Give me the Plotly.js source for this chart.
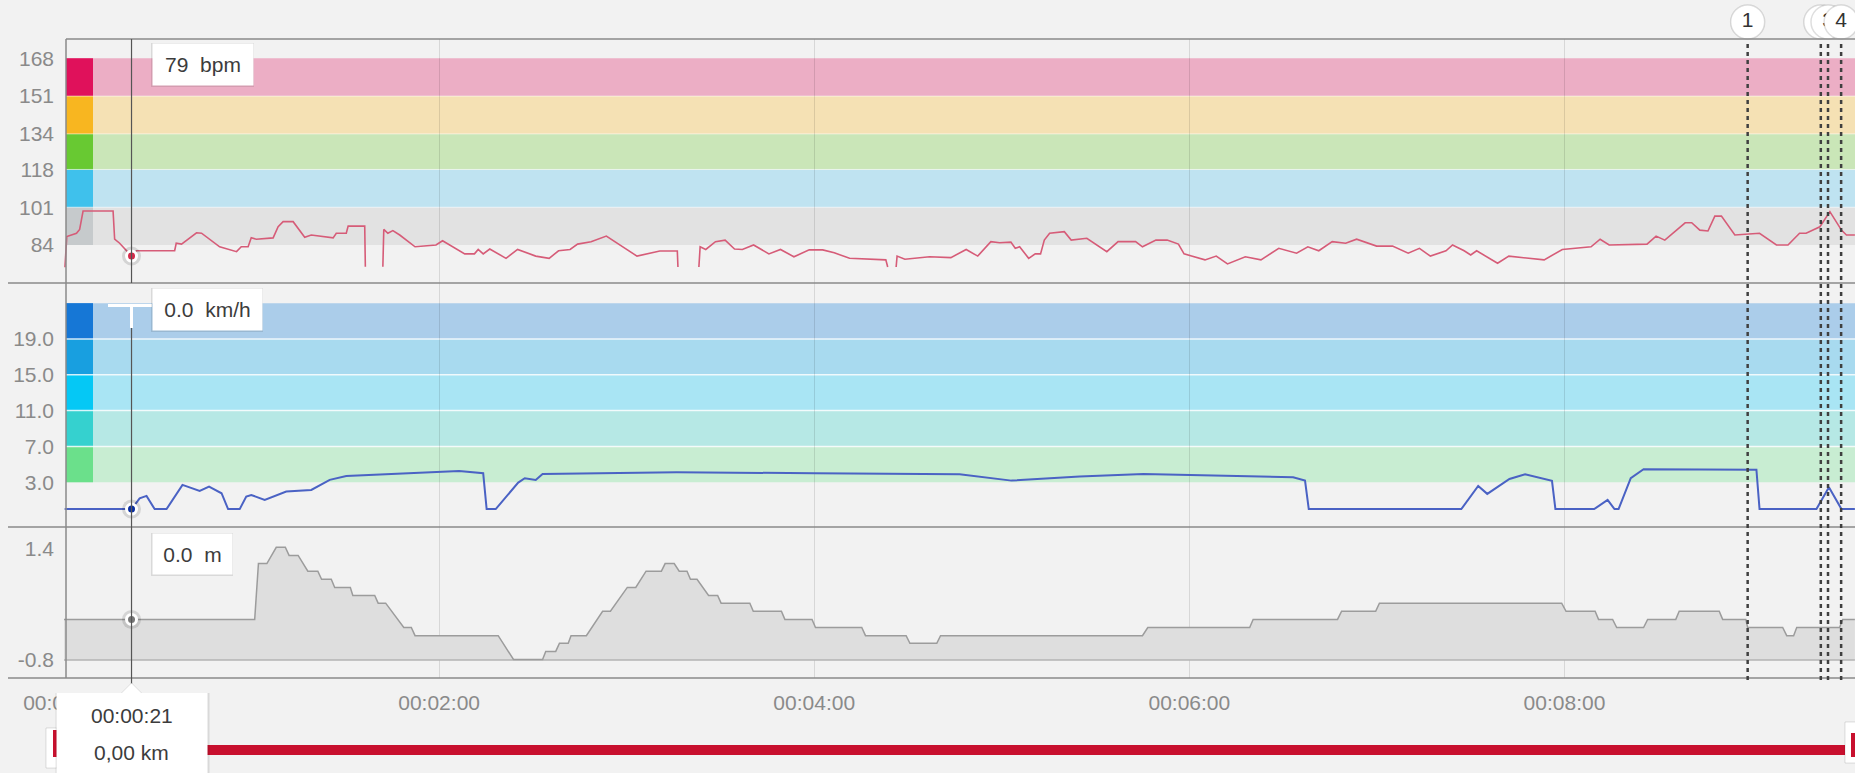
<!DOCTYPE html>
<html><head><meta charset="utf-8">
<script src="https://cdn.plot.ly/plotly-3.0.1.min.js"></script>
<style>html,body{margin:0;padding:0;background:#f2f2f2;overflow:hidden}#chart{width:1855px;height:773px}</style>
</head><body><div id="chart"></div>
<script>
// ---------------- DATA ----------------
const hrTime = [0.3,0.9,4.0,5.0,6.1,15.7,16.2,17.8,21.6,23.2,35.4,35.9,37.6,39.2,42.4,44.0,49.8,55.2,56.7,58.9,59.9,61.5,66.9,68.5,70.1,73.3,77.0,79.1,86.1,87.1,90.3,90.9,96.2,96.4,null,
102.0,102.3,103.6,105.2,107.4,109.2,112.3,119.0,121.1,128.2,131.3,132.5,134.1,136.2,141.4,145.1,150.9,155.2,158.2,161.9,164.3,168.6,173.5,183.3,190.6,196.2,196.4,null,
203.1,203.5,205.3,208.4,211.5,214.5,217.0,220.6,225.5,229.2,233.5,238.4,242.7,246.4,251.3,262.9,263.5,null,
266.2,266.5,269.0,276.9,283.7,288.6,292.3,296.5,299.3,302.9,304.3,305.7,308.6,310.7,312.4,313.6,315.3,320.0,322.2,327.2,333.6,337.2,342.8,345.0,349.3,352.9,356.5,358.3,365.0,368.6,372.2,377.9,382.9,388.6,394.3,397.9,401.4,405.7,410.0,413.5,419.9,425.0,430.0,433.6,437.1,442.1,444.2,447.9,450.0,451.9,458.6,462.2,473.5,479.3,488.5,491.4,494.3,506.4,509.3,512.1,518.6,520.7,523.3,525.9,528.1,530.2,534.5,542.4,547.8,551.5,555.2,557.3,561.7,564.9,568.6,570.2,572.9];
const hrBpm = [74,87.8,89.3,91,99.3,99.3,86.6,84.8,79,81.4,81.4,84.8,84.4,86.2,89.5,89.3,83.2,81,83.2,83.2,87.3,86.6,87.2,92.2,94.5,94.5,87.5,88.5,87.2,89.3,89.3,92.5,92.5,74.2,null,
74.2,91,89.3,90.5,88.5,86.6,83.2,84,85.9,80,80,82,80,82.2,78,82,79,78,81.4,82,84.4,85.5,88,79,81.3,81.3,74.1,null,
74.1,83.2,82,85.5,86.2,82.2,82,84,80,82,78.7,81.8,81.8,80.5,78,77.3,74.1,null,
74.1,79,77.6,78.7,78.3,82,79,85.5,85,85.3,82.5,83.2,78,80,80,86.2,89.3,90,86.2,87,81,85.5,85.5,83.2,86.2,86.2,84.4,80,77.3,79,75.5,78.7,77.3,82.5,80.3,83.2,81.4,85.5,84.8,86.6,83.5,83.5,80.3,82.5,79,81.4,84,81.4,79.5,81.4,75.8,79,77.3,82,83.2,86.6,84,84.4,88,86.2,94,94,90.7,90.3,97,97,88.5,89.3,84,84,89.3,89.3,92.2,99,90.7,88.5,88.5];

const speedTime = [0.2,21.6,24.2,26.4,29.0,32.8,37.9,43.4,46.4,50.4,52.5,56.2,58.3,59.9,64.2,71.1,79.1,85.0,90.3,107.4,126.4,134.1,135.2,138.1,145.3,147.4,150.9,153.1,196.0,240.1,286.5,303.1,324.9,345.3,393.2,397.0,398.2,447.0,452.4,455.3,462.4,467.4,476.0,477.1,489.5,493.8,496.0,497.3,501.2,505.3,541.4,542.4,560.6,564.6,568.6,572.9];
const speedKmh = [0,0,1.2,1.47,0,0,2.7,2.03,2.5,1.77,0,0,1.4,1.58,1.03,1.96,2.14,3.26,3.7,4.0,4.26,4.0,0,0,2.96,3.45,3.26,3.93,4.12,4.0,3.9,3.18,3.63,3.93,3.56,3.18,0,0,2.59,1.7,3.37,3.9,3.15,0,0,1.03,0,0,3.45,4.45,4.4,0,0,2.44,0,0];

const elevTime = [0,61.0,62.2,64.9,67.9,70.8,72.0,74.9,78.0,81.2,82.4,85.5,86.6,91.6,92.4,99.4,100.5,102.9,108.7,111.1,112.3,138.9,143.8,153.1,154.1,157.3,158.5,161.3,162.2,167.1,172.3,174.8,180.2,182.9,186.2,191.1,192.3,195.2,196.8,199.3,200.4,202.5,206.2,209.1,210.2,219.4,220.5,229.5,230.6,239.3,240.4,255.2,256.4,269.4,270.6,279.2,280.4,345.0,346.7,379.3,380.4,407.4,408.7,419.6,420.8,479.1,480.5,489.8,490.9,495.4,496.7,505.3,506.6,515.6,516.7,529.5,530.6,538.0,538.6,549.8,551.1,553.3,554.3,568.0,569.0,572.9];
const elevM = [0,0,1.10,1.10,1.42,1.42,1.26,1.26,0.95,0.95,0.79,0.79,0.63,0.63,0.47,0.47,0.32,0.32,-0.16,-0.16,-0.32,-0.32,-0.79,-0.79,-0.63,-0.63,-0.47,-0.47,-0.32,-0.32,0.16,0.16,0.63,0.63,0.95,0.95,1.10,1.10,0.95,0.95,0.79,0.79,0.47,0.47,0.32,0.32,0.16,0.16,0,0,-0.16,-0.16,-0.32,-0.32,-0.47,-0.47,-0.32,-0.32,-0.16,-0.16,0,0,0.16,0.16,0.32,0.32,0.16,0.16,0,0,-0.16,-0.16,0,0,0.16,0.16,0,0,-0.16,-0.16,-0.32,-0.32,-0.16,-0.16,0,0];

const hrZones = [84,101,118,134,151,168];
const hrZoneBand = ['#e2e2e2','#bfe3f1','#cae6b8','#f5e1b4','#ecaec5'];
const hrZoneSwatch = ['#c6cacc','#3fc1ec','#68c932','#f8b620','#e0115b'];
const speedZones = [3,7,11,15,19,23];
const speedZoneBand = ['#c8edd2','#b6e8e5','#a9e5f4','#a8daef','#abcdea'];
const speedZoneSwatch = ['#6be08b','#35d1cf','#05c8f5','#189fe0','#1677d6'];
const elevTicks = [-0.8, 1.4];
const xTickSec = [0,120,240,360,480];
const xTickText = ['00:00:00','00:02:00','00:04:00','00:06:00','00:08:00'];
const lapTime = [538.6, 562.0, 564.3, 568.5];
const lapLabel = ['1','2','3','4'];
const cursorSec = 21.6;
const cursorTimeText = '00:00:21';
const cursorDistText = '0,00 km';
const cursorHr = 79;
const cursorSpeed = 0.0;
const cursorElev = 0.0;

// ---------------- LAYOUT HELPERS ----------------
const W = 1855, H = 773, ML = 64, PH = 678, PW = W - ML;
const px = x => (x - ML) / PW;
const py = y => (PH - y) / PH;
const secPerPx = 1 / 3.126;
const FONT = '"Liberation Sans", Arial, sans-serif';
const GAP = '\u00a0 ';

const traces = [];
traces.push({x: hrTime, y: hrBpm, xaxis:'x', yaxis:'y', mode:'lines', connectgaps:false,
  line:{color:'#d65c78', width:1.6}, hoverinfo:'skip'});
traces.push({x: speedTime, y: speedKmh, xaxis:'x', yaxis:'y2', mode:'lines',
  line:{color:'#4a62c4', width:2}, hoverinfo:'skip'});
traces.push({x: [elevTime[0], elevTime[elevTime.length-1]], y: [elevTicks[0], elevTicks[0]], xaxis:'x', yaxis:'y3', mode:'lines',
  line:{color:'#b3b3b3', width:1.5}, hoverinfo:'skip'});
traces.push({x: elevTime, y: elevM, xaxis:'x', yaxis:'y3', mode:'lines', fill:'tonexty', fillcolor:'#dedede',
  line:{color:'#9c9c9c', width:1.5}, hoverinfo:'skip'});

// cursor markers
[['y', cursorHr, '#d42a4a'], ['y2', cursorSpeed, '#0b2fa0'], ['y3', cursorElev, '#777777']].forEach(([ax, v, c]) => {
  traces.push({x:[cursorSec], y:[v], xaxis:'x', yaxis:ax, mode:'markers', cliponaxis:false,
    marker:{size:19, color:'rgba(0,0,0,0.12)', line:{width:0}}, hoverinfo:'skip'});
  traces.push({x:[cursorSec], y:[v], xaxis:'x', yaxis:ax, mode:'markers', cliponaxis:false,
    marker:{size:10, color:c, line:{width:3, color:'#ffffff'}}, hoverinfo:'skip'});
});

// lap markers
lapTime.forEach((t, i) => {
  traces.push({x:[t], y:[0.436], xaxis:'x2', yaxis:'y4', mode:'markers+text', cliponaxis:false,
    text:[lapLabel[i]], textposition:'middle center', textfont:{family:FONT, size:21, color:'#333333'},
    marker:{size:34, color:'#ffffff', line:{width:1.5, color:'rgba(0,0,0,0.13)'}}, hoverinfo:'skip'});
});

const shapes = [];
// zone bands
for (let i = 0; i < 5; i++) {
  shapes.push({type:'rect', layer:'below', xref:'paper', yref:'y', x0:px(66), x1:1, y0:hrZones[i], y1:hrZones[i+1],
    fillcolor:hrZoneBand[i], line:{width:0}});
  shapes.push({type:'rect', layer:'below', xref:'paper', yref:'y2', x0:px(66), x1:1, y0:speedZones[i], y1:speedZones[i+1],
    fillcolor:speedZoneBand[i], line:{width:0}});
}
for (let i = 0; i < 5; i++) {
  shapes.push({type:'rect', layer:'below', xref:'paper', yref:'y', x0:px(66), x1:px(93), y0:hrZones[i], y1:hrZones[i+1],
    fillcolor:hrZoneSwatch[i], line:{width:0}});
  shapes.push({type:'rect', layer:'below', xref:'paper', yref:'y2', x0:px(66), x1:px(93), y0:speedZones[i], y1:speedZones[i+1],
    fillcolor:speedZoneSwatch[i], line:{width:0}});
}
for (let i = 1; i < 5; i++) {
  shapes.push({type:'line', layer:'below', xref:'paper', yref:'y', x0:px(66), x1:1, y0:hrZones[i], y1:hrZones[i],
    line:{color:'rgba(255,255,255,0.55)', width:1}});
  shapes.push({type:'line', layer:'below', xref:'paper', yref:'y2', x0:px(66), x1:1, y0:speedZones[i], y1:speedZones[i],
    line:{color:'rgba(255,255,255,0.8)', width:1.5}});
}
// panel frame
const frame = '#8a8a8a';
shapes.push({type:'line', layer:'above', xref:'paper', yref:'paper', x0:px(66), x1:1, y0:py(39), y1:py(39), line:{color:frame, width:1.5}});
[283, 527, 678].forEach(yy => shapes.push({type:'line', layer:'above', xref:'paper', yref:'paper', x0:px(8), x1:1, y0:py(yy), y1:py(yy), line:{color:frame, width:1.5}}));
shapes.push({type:'line', layer:'above', xref:'paper', yref:'paper', x0:px(66), x1:px(66), y0:py(678), y1:py(39), line:{color:frame, width:1.5}});

// lap dashed lines
lapTime.forEach(t => shapes.push({type:'line', layer:'above', xref:'x', yref:'paper', x0:t, x1:t, y0:py(680), y1:py(40),
  line:{color:'#404040', width:2.5, dash:'4px,4px'}}));

// cursor
shapes.push({type:'line', layer:'above', xref:'x', yref:'paper', x0:cursorSec, x1:cursorSec, y0:py(283), y1:py(39), line:{color:'#555555', width:1.2}});
shapes.push({type:'line', layer:'above', xref:'x', yref:'paper', x0:cursorSec, x1:cursorSec, y0:py(684), y1:py(327), line:{color:'#555555', width:1.2}});
shapes.push({type:'line', layer:'above', xref:'paper', yref:'paper', x0:px(108), x1:px(152), y0:py(305.5), y1:py(305.5), line:{color:'#ffffff', width:3}});
shapes.push({type:'line', layer:'above', xref:'x', yref:'paper', x0:cursorSec, x1:cursorSec, y0:py(328), y1:py(305), line:{color:'#ffffff', width:3}});

// tooltip shadows
const boxes = [[152,252,43,84],[152,261,288,329],[152,231,533,573]];
boxes.forEach(b => shapes.push({type:'rect', layer:'above', xref:'paper', yref:'paper', x0:px(b[0]-1), x1:px(b[1]+2), y0:py(b[3]+3), y1:py(b[2]),
  fillcolor:'rgba(0,0,0,0.10)', line:{width:0}}));

// bottom red range bar + handles
shapes.push({type:'rect', layer:'above', xref:'paper', yref:'paper', x0:px(55), x1:1.01, y0:py(755), y1:py(745), fillcolor:'#c8102e', line:{width:0}});
shapes.push({type:'rect', layer:'above', xref:'paper', yref:'paper', x0:px(46), x1:px(57), y0:py(768), y1:py(728), fillcolor:'#ffffff', line:{color:'rgba(0,0,0,0.12)', width:1}});
shapes.push({type:'rect', layer:'above', xref:'paper', yref:'paper', x0:px(53), x1:px(57), y0:py(757), y1:py(730), fillcolor:'#c8102e', line:{width:0}});
shapes.push({type:'rect', layer:'above', xref:'paper', yref:'paper', x0:px(1845), x1:1.01, y0:py(763), y1:py(722), fillcolor:'#ffffff', line:{color:'rgba(0,0,0,0.12)', width:1}});
shapes.push({type:'rect', layer:'above', xref:'paper', yref:'paper', x0:px(1851), x1:1.01, y0:py(757), y1:py(733), fillcolor:'#c8102e', line:{width:0}});

// bottom tooltip box
const cx = ML + cursorSec / secPerPx;
shapes.push({type:'rect', layer:'above', xref:'paper', yref:'paper', x0:px(cx-76), x1:px(cx+78), y0:py(790), y1:py(693), fillcolor:'rgba(0,0,0,0.10)', line:{width:0}});
shapes.push({type:'path', layer:'above', xref:'paper', yref:'paper',
  path:`M ${px(cx-11)} ${py(694)} L ${px(cx)} ${py(683)} L ${px(cx+11)} ${py(694)} Z`, fillcolor:'#ffffff', line:{color:'rgba(0,0,0,0.10)', width:1}});
shapes.push({type:'rect', layer:'above', xref:'paper', yref:'paper', x0:px(cx-75), x1:px(cx+76), y0:py(790), y1:py(693), fillcolor:'#ffffff', line:{width:0}});

const annFont = {family:FONT, size:21, color:'#3c3c3c'};
const annotations = [
  {xref:'paper', yref:'paper', x:px(152), y:py(43), xanchor:'left', yanchor:'top', width:100, height:41, borderpad:0,
    bgcolor:'#ffffff', text: cursorHr + GAP + 'bpm', showarrow:false, font:annFont, align:'center', valign:'middle'},
  {xref:'paper', yref:'paper', x:px(152), y:py(288), xanchor:'left', yanchor:'top', width:109, height:41, borderpad:0,
    bgcolor:'#ffffff', text: cursorSpeed.toFixed(1) + GAP + 'km/h', showarrow:false, font:annFont, align:'center', valign:'middle'},
  {xref:'paper', yref:'paper', x:px(152), y:py(533), xanchor:'left', yanchor:'top', width:79, height:40, borderpad:0,
    bgcolor:'#ffffff', text: cursorElev.toFixed(1) + GAP + 'm', showarrow:false, font:annFont, align:'center', valign:'middle'},
  {xref:'x', yref:'paper', x:cursorSec, y:py(715), xanchor:'center', yanchor:'middle', text:cursorTimeText, showarrow:false, font:annFont},
  {xref:'x', yref:'paper', x:cursorSec, y:py(752), xanchor:'center', yanchor:'middle', text:cursorDistText, showarrow:false, font:annFont}
];

const yCommon = {showgrid:false, zeroline:false, showline:false, ticks:'', anchor:'x', fixedrange:true,
  tickfont:{family:FONT, size:21, color:'#8a8a8a'}, ticklabelstandoff:9};

const layout = {
  width:W, height:H, margin:{l:ML, r:0, t:0, b:H-PH, pad:0},
  paper_bgcolor:'#f2f2f2', plot_bgcolor:'rgba(0,0,0,0)', showlegend:false,
  font:{family:FONT},
  xaxis:{domain:[0,1], range:[0, PW*secPerPx], anchor:'y3', tickvals:xTickSec, ticktext:xTickText,
    tickfont:{family:FONT, size:21, color:'#8a8a8a'}, showgrid:true, gridcolor:'rgba(0,0,0,0.11)', gridwidth:1,
    zeroline:false, showline:false, ticks:'', ticklabelstandoff:10, fixedrange:true},
  xaxis2:{domain:[0,1], range:[0, PW*secPerPx], anchor:'y4', visible:false, fixedrange:true},
  yaxis:Object.assign({}, yCommon, {domain:[py(283), py(39)], range:[66.9, 176.7], tickvals:hrZones, ticktext:hrZones.map(String)}),
  yaxis2:Object.assign({}, yCommon, {domain:[py(527), py(283)], range:[-2.0, 25.25], tickvals:speedZones.slice(0,5), ticktext:speedZones.slice(0,5).map(v=>v.toFixed(1))}),
  yaxis3:Object.assign({}, yCommon, {domain:[0, py(527)], range:[-1.154, 1.82], tickvals:elevTicks, ticktext:elevTicks.map(v=>v.toFixed(1))}),
  yaxis4:{domain:[py(39), 1], range:[0,1], anchor:'x2', visible:false, fixedrange:true},
  shapes:shapes, annotations:annotations
};

Plotly.newPlot('chart', traces, layout, {staticPlot:true, displayModeBar:false});
</script></body></html>
